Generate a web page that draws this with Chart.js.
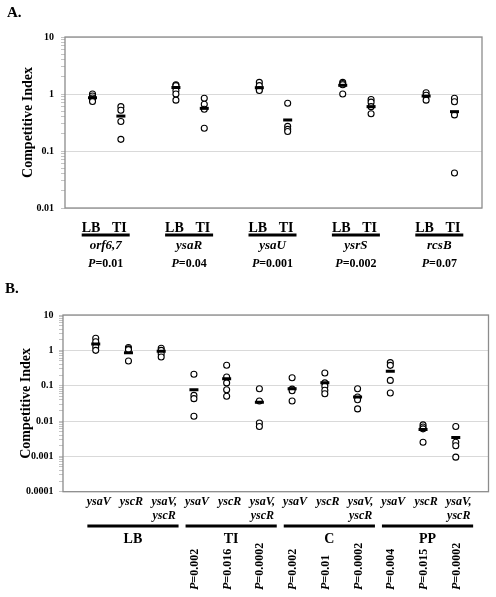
<!DOCTYPE html>
<html>
<head>
<meta charset="utf-8">
<script src="https://cdn.jsdelivr.net/npm/chart.js@4.4.1/dist/chart.umd.min.js"></script>
<style>
  html, body { margin: 0; padding: 0; background: #fff; }
  body { width: 496px; height: 597px; position: relative; overflow: hidden; }
  canvas { position: absolute; left: 0; }
  #chartA { top: 0; }
  #chartB { top: 275px; }
</style>
</head>
<body>
<canvas id="chartA" width="496" height="275"></canvas>
<canvas id="chartB" width="496" height="322"></canvas>
<script>
// panel A: LB vs TI for each mutant
const genesA = ['orf6,7', 'ysaR', 'ysaU', 'ysrS', 'rcsB'];
const mediaA = ['LB', 'TI'];
const pValuesA = ['0.01', '0.04', '0.001', '0.002', '0.07'];
const lbValuesA = [
  [1.0, 0.92, 0.85, 0.8, 0.74],
  [1.45, 1.4, 1.15, 1.0, 0.78],
  [1.6, 1.4, 1.2, 1.15],
  [1.6, 1.52, 1.45, 1.0],
  [1.05, 0.95, 0.78]
];
const tiValuesA = [
  [0.6, 0.52, 0.33, 0.16],
  [0.84, 0.66, 0.54, 0.25],
  [0.69, 0.27, 0.24, 0.22],
  [0.8, 0.72, 0.6, 0.45],
  [0.84, 0.73, 0.43, 0.041]
];
const lbMeansA = [0.86, 1.3, 1.29, 1.42, 0.92];
const tiMeansA = [0.41, 0.56, 0.35, 0.6, 0.49];
const yTicksA = [0.01, 0.1, 1, 10];

// panel B: three strains in four conditions
const groupsB = ['LB', 'TI', 'C', 'PP'];
const strainsB = [['ysaV'], ['yscR'], ['ysaV,', 'yscR']];
const lbValuesB = [[2.2, 1.75, 1.25, 1.0], [1.2, 1.1, 1.05, 0.5], [1.15, 1.0, 0.8, 0.65]];
const tiValuesB = [[0.21, 0.053, 0.043, 0.0137], [0.38, 0.176, 0.12, 0.077, 0.05], [0.082, 0.037, 0.0088, 0.007]];
const cValuesB = [[0.168, 0.08, 0.072, 0.037], [0.228, 0.12, 0.096, 0.074, 0.059], [0.082, 0.048, 0.04, 0.022]];
const ppValuesB = [[0.45, 0.376, 0.141, 0.062], [0.0078, 0.0068, 0.006, 0.0025], [0.007, 0.0025, 0.002, 0.00095]];
const lbMeansB = [1.5, 0.86, 0.94];
const tiMeansB = [0.077, 0.158, 0.034];
const cMeansB = [0.082, 0.122, 0.048];
const ppMeansB = [0.254, 0.0058, 0.0034];
const pValuesB = [[], ['0.002', '0.016', '0.0002'], ['0.002', '0.01', '0.0002'], ['0.004', '0.015', '0.0002']];
const yTicksB = [0.0001, 0.001, 0.01, 0.1, 1, 10];

const serif = "'Liberation Serif', 'Times New Roman', serif";

function isDecade(v) {
  const l = Math.log10(v);
  return Math.abs(l - Math.round(l)) < 1e-6;
}

function logAxis(tickList, width, pad, titlePad) {
  return {
    type: 'logarithmic',
    min: tickList[0],
    max: tickList[tickList.length - 1],
    afterBuildTicks: scale => {
      // keep 1..9 per decade like the original
      scale.ticks = scale.ticks.filter(t => {
        const m = t.value / Math.pow(10, Math.floor(Math.log10(t.value) + 1e-9));
        return Math.abs(m - Math.round(m)) < 1e-6;
      });
    },
    afterFit: scale => { scale.width = width; },
    ticks: {
      autoSkip: false,
      padding: pad,
      color: '#000',
      font: { family: serif, size: 10, weight: 'bold' },
      callback: v => {
        const t = tickList.find(k => Math.abs(Math.log10(k) - Math.log10(v)) < 1e-6);
        return t === undefined ? '' : String(t);
      }
    },
    grid: {
      color: ctx => (ctx.tick && isDecade(ctx.tick.value)) ? '#d9d9d9' : 'rgba(0,0,0,0)',
      tickColor: '#c4c4c4',
      tickLength: 4,
      lineWidth: 1
    },
    border: { display: false },
    title: {
      display: true,
      text: 'Competitive Index',
      color: '#000',
      font: { family: serif, size: 14, weight: 'bold' },
      padding: { top: titlePad, bottom: 0 }
    }
  };
}

function circleSet(data) {
  return {
    data: data,
    pointStyle: 'circle',
    pointRadius: 3,
    borderWidth: 1.1,
    borderColor: '#000',
    backgroundColor: '#fff',
    showLine: false
  };
}

function meanSet(data) {
  return {
    data: data,
    pointStyle: 'line',
    pointRadius: 4.5,
    borderWidth: 3,
    borderColor: '#000',
    backgroundColor: '#000',
    showLine: false
  };
}

function drawFrame(chart) {
  const { ctx, chartArea: a } = chart;
  ctx.save();
  ctx.strokeStyle = '#8c8c8c';
  ctx.lineWidth = 1.3;
  ctx.strokeRect(a.left, a.top, a.right - a.left, a.bottom - a.top);
  ctx.restore();
}

function pieceP(ctx, p, x, y, size) {
  // italic P followed by upright "=value"
  ctx.font = `italic bold ${size}px ${serif}`;
  const w1 = ctx.measureText('P').width;
  ctx.fillText('P', x, y);
  ctx.font = `bold ${size}px ${serif}`;
  ctx.fillText('=' + p, x + w1, y);
}

function widthP(ctx, p, size) {
  ctx.font = `italic bold ${size}px ${serif}`;
  const w1 = ctx.measureText('P').width;
  ctx.font = `bold ${size}px ${serif}`;
  return w1 + ctx.measureText('=' + p).width;
}

const baseOptions = (xMax, yAxis, padding) => ({
  responsive: false,
  animation: false,
  events: [],
  layout: { padding: padding },
  scales: {
    x: { type: 'linear', min: 0, max: xMax, display: false },
    y: yAxis
  },
  plugins: {
    legend: { display: false },
    tooltip: { enabled: false }
  }
});

// ---------- panel A ----------
const circlesA = [];
const meansA = [];
genesA.forEach((g, i) => {
  lbValuesA[i].forEach(v => circlesA.push({ x: i + 0.33, y: v }));
  tiValuesA[i].forEach(v => circlesA.push({ x: i + 0.67, y: v }));
  meansA.push({ x: i + 0.33, y: lbMeansA[i] });
  meansA.push({ x: i + 0.67, y: tiMeansA[i] });
});

const panelA = {
  id: 'panelA',
  beforeDatasetsDraw: drawFrame,
  afterDraw(chart) {
    const { ctx } = chart;
    const x = chart.scales.x;
    ctx.save();
    ctx.fillStyle = '#000';
    ctx.textBaseline = 'alphabetic';
    ctx.textAlign = 'left';
    ctx.font = `bold 15px ${serif}`;
    ctx.fillText('A.', 7, 17);
    genesA.forEach((gene, i) => {
      const xl = x.getPixelForValue(i + 0.33);
      const xt = x.getPixelForValue(i + 0.67);
      const mid = (xl + xt) / 2 - 1;
      ctx.textAlign = 'center';
      ctx.font = `bold 14px ${serif}`;
      ctx.fillText(mediaA[0], xl - 1.5, 232);
      ctx.fillText(mediaA[1], xt - 1.5, 232);
      ctx.fillRect(mid - 24, 233.5, 48, 3);
      ctx.font = `italic bold 13px ${serif}`;
      ctx.fillText(gene, mid, 249);
      ctx.textAlign = 'left';
      const w = widthP(ctx, pValuesA[i], 12);
      pieceP(ctx, pValuesA[i], mid - w / 2, 266.5, 12);
    });
    ctx.restore();
  }
};

new Chart(document.getElementById('chartA'), {
  type: 'scatter',
  data: { datasets: [meanSet(meansA), circleSet(circlesA)] },
  options: baseOptions(5, logAxis(yTicksA, 65, 7, 19.6), { left: 0, top: 37, right: 14, bottom: 67 }),
  plugins: [panelA]
});

// ---------- panel B ----------
const topB = 275;
const valuesB = [lbValuesB, tiValuesB, cValuesB, ppValuesB];
const meanRowsB = [lbMeansB, tiMeansB, cMeansB, ppMeansB];
const circlesB = [];
const meansB = [];
groupsB.forEach((grp, g) => {
  strainsB.forEach((s, k) => {
    const pos = g * 3 + k + 1;
    valuesB[g][k].forEach(v => circlesB.push({ x: pos, y: v }));
    meansB.push({ x: pos, y: meanRowsB[g][k] });
  });
});

const panelB = {
  id: 'panelB',
  beforeDatasetsDraw: drawFrame,
  afterDraw(chart) {
    const { ctx } = chart;
    const x = chart.scales.x;
    ctx.save();
    ctx.fillStyle = '#000';
    ctx.textBaseline = 'alphabetic';
    ctx.textAlign = 'left';
    ctx.font = `bold 15px ${serif}`;
    ctx.fillText('B.', 5, 293 - topB);
    groupsB.forEach((grp, g) => {
      strainsB.forEach((lines, k) => {
        const px = x.getPixelForValue(g * 3 + k + 1);
        ctx.textAlign = 'center';
        ctx.textBaseline = 'alphabetic';
        ctx.font = `italic bold 12px ${serif}`;
        lines.forEach((ln, j) => ctx.fillText(ln, px + 3, 505 - topB + j * 14.3));
        const p = pValuesB[g][k];
        if (p) {
          ctx.save();
          ctx.translate(px + 1, 590 - topB);
          ctx.rotate(-Math.PI / 2);
          ctx.textAlign = 'left';
          ctx.textBaseline = 'middle';
          pieceP(ctx, p, 0, 0, 12);
          ctx.restore();
        }
      });
      const x0 = x.getPixelForValue(g * 3 + 0.5) + 8;
      const x1 = x.getPixelForValue(g * 3 + 3.5) + 1;
      ctx.fillRect(x0, 524.5 - topB, x1 - x0, 3);
      ctx.textAlign = 'center';
      ctx.textBaseline = 'alphabetic';
      ctx.font = `bold 14px ${serif}`;
      ctx.fillText(grp, (x0 + x1) / 2, 543.3 - topB);
    });
    ctx.restore();
  }
};

new Chart(document.getElementById('chartB'), {
  type: 'scatter',
  data: { datasets: [meanSet(meansB), circleSet(circlesB)] },
  options: baseOptions(13, logAxis(yTicksB, 63, 5.5, 17.6), { left: 0, top: 40, right: 7, bottom: 105.3 }),
  plugins: [panelB]
});
</script>
</body>
</html>
